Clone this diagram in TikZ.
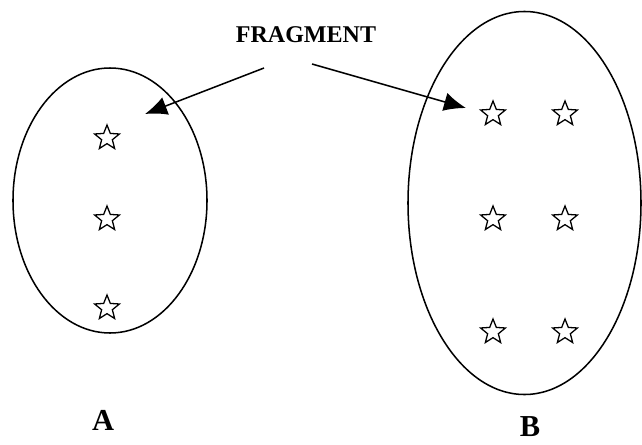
\documentclass[tikz,border=0pt]{standalone}
\usepackage{fontspec}
\setmainfont{Liberation Serif}
\usetikzlibrary{shapes.geometric,arrows.meta}

\begin{document}
\begin{tikzpicture}[x=0.03cm, y=-0.03cm, line width=1.3pt]
\useasboundingbox (0,0) rectangle (642,444);
\node (fragment) at (306,35) {\fontsize{20.5}{24}\selectfont\bfseries FRAGMENT};
 \begin{scope}[every node/.style={draw, ellipse, inner sep=0pt}]
  \node (setA) at (110,200.5) [minimum width=5.82cm, minimum height=7.95cm] {};
  \node (setB) at (524.5,203) [minimum width=6.99cm, minimum height=11.49cm] {};
 \end{scope}
 \begin{scope}[every node/.style={draw, star, star points=5, star point ratio=2.3,
                 minimum size=0.78cm, inner sep=0pt, line width=1.1pt}]
  \node (a1) at (107,138) {};
  \node (a2) at (107,219) {};
  \node (a3) at (107,308) {};
  \node (b1) at (493,114) {};
  \node (b2) at (565,114) {};
  \node (b3) at (493,219) {};
  \node (b4) at (565,219) {};
  \node (b5) at (493,332) {};
  \node (b6) at (565,332) {};
 \end{scope}
 \begin{scope}[every node/.style={inner sep=0pt, font=\fontsize{26}{28}\selectfont\bfseries}]
  \node (labelA) at (103,420) {A};
  \node (labelB) at (530,427) {B};
 \end{scope}
\coordinate (fromA) at (264,68);
\coordinate (toA) at (145,114);
\coordinate (fromB) at (312,64);
\coordinate (toB) at (466,108);
  \path [-{Latex[length=0.66cm,width=0.56cm]}] (fromA) edge node {} (toA);
  \path [-{Latex[length=0.66cm,width=0.56cm]}] (fromB) edge node {} (toB);
\end{tikzpicture}
\end{document}
